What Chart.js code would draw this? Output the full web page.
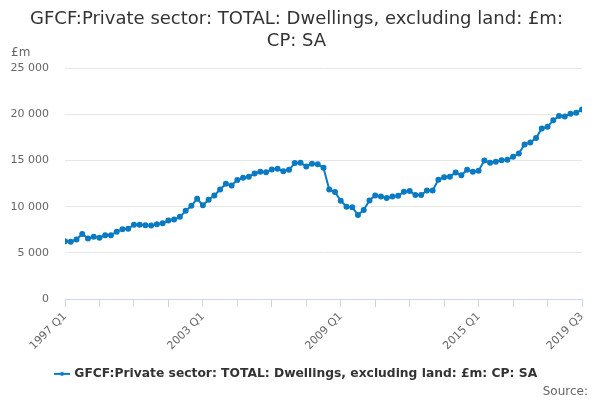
<!DOCTYPE html>
<html>
<head>
<meta charset="utf-8">
<script src="https://cdn.jsdelivr.net/npm/chart.js@4.4.0/dist/chart.umd.min.js"></script>
<style>
  html, body { margin: 0; padding: 0; background: #fff; }
  #wrap { width: 600px; height: 400px; }
</style>
</head>
<body>
<div id="wrap"><canvas id="gfcfChart"></canvas></div>
<script>
// quarters 1997 Q1 .. 2019 Q3
const years = [1997, 1998, 1999, 2000, 2001, 2002, 2003, 2004, 2005, 2006, 2007, 2008,
  2009, 2010, 2011, 2012, 2013, 2014, 2015, 2016, 2017, 2018, 2019];
const quarters = [];
years.forEach(y => ['Q1', 'Q2', 'Q3', 'Q4'].forEach(q => {
  if (!(y === 2019 && q === 'Q4')) quarters.push(y + ' ' + q);
}));

// £m
const values = [
  6250, 6200, 6450, 7050, 6550, 6750, 6650, 6900,
  6900, 7300, 7550, 7600, 8050, 8050, 8000, 7950,
  8100, 8200, 8500, 8600, 8900, 9550, 10100, 10850,
  10150, 10750, 11220, 11870, 12480, 12300, 12880, 13130,
  13240, 13600, 13780, 13740, 14030, 14100, 13850, 13990,
  14720, 14750, 14360, 14650, 14610, 14210, 11870, 11580,
  10650, 9990, 9940, 9090, 9650, 10680, 11220, 11110,
  10930, 11110, 11180, 11610, 11690, 11260, 11260, 11760,
  11760, 12910, 13200, 13240, 13710, 13400, 14010, 13780,
  13900, 15010, 14760, 14860, 15040, 15080, 15400, 15770,
  16740, 16960, 17430, 18480, 18650, 19370, 19810, 19780,
  20060, 20170, 20530
];

const tickLabels = ['1997 Q1', '2003 Q1', '2009 Q1', '2015 Q1', '2019 Q3'];
const seriesName = 'GFCF:Private sector: TOTAL: Dwellings, excluding land: £m: CP: SA';
const titleLines = ['GFCF:Private sector: TOTAL: Dwellings, excluding land: £m:', 'CP: SA'];
const unitLabel = '£m';
const sourceLabel = 'Source:';

const lineColor = '#0a7bc2';
const fontFamily = '"DejaVu Sans", sans-serif';

// legend symbol: short line with a dot
const sym = document.createElement('canvas');
sym.width = 16; sym.height = 8;
const sctx = sym.getContext('2d');
sctx.strokeStyle = lineColor; sctx.lineWidth = 2;
sctx.beginPath(); sctx.moveTo(0, 4); sctx.lineTo(16, 4); sctx.stroke();
sctx.fillStyle = lineColor;
sctx.beginPath(); sctx.arc(8, 4, 2, 0, Math.PI * 2); sctx.fill();

const extraText = {
  id: 'extraText',
  afterDraw(chart) {
    const ctx = chart.ctx;
    ctx.save();
    ctx.fillStyle = '#666';
    ctx.font = '12px ' + fontFamily;
    ctx.textBaseline = 'middle';
    ctx.textAlign = 'left';
    ctx.fillText(unitLabel, 11, 53);
    ctx.textAlign = 'right';
    ctx.fillText(sourceLabel, 588, 392);
    ctx.restore();
  }
};

new Chart(document.getElementById('gfcfChart'), {
  type: 'line',
  data: {
    datasets: [{
      label: seriesName,
      data: values.map((v, i) => ({ x: i, y: v })),
      borderColor: lineColor,
      backgroundColor: lineColor,
      borderWidth: 2,
      pointRadius: 2,
      pointHoverRadius: 3,
      pointStyle: 'circle',
      tension: 0
    }]
  },
  options: {
    responsive: true,
    maintainAspectRatio: false,
    animation: false,
    layout: { padding: { left: 11, right: 18, top: 0, bottom: 10 } },
    plugins: {
      title: {
        display: true,
        text: titleLines,
        color: '#333',
        font: { family: fontFamily, size: 18, weight: 'normal', lineHeight: 1.2 },
        padding: { top: 9, bottom: 16 }
      },
      legend: {
        position: 'bottom',
        labels: {
          usePointStyle: true,
          pointStyle: sym,
          color: '#333',
          font: { family: fontFamily, size: 12.3, weight: 'bold' },
          padding: 12
        }
      },
      tooltip: { enabled: false }
    },
    scales: {
      x: {
        type: 'linear',
        min: 0,
        max: values.length - 1,
        offset: false,
        border: { display: true, color: '#ccd6eb', width: 1 },
        grid: { drawOnChartArea: false, drawTicks: true, tickLength: 8, color: '#ccd6eb' },
        ticks: {
          stepSize: 6,
          autoSkip: false,
          maxRotation: 45,
          minRotation: 45,
          color: '#666',
          font: { family: fontFamily, size: 11 },
          callback: v => tickLabels.includes(quarters[v]) ? quarters[v] : ''
        },
        afterBuildTicks: axis => {
          axis.ticks = [];
          for (let i = 0; i < quarters.length; i += 6) axis.ticks.push({ value: i });
        },
        afterFit: axis => {
          axis.paddingLeft = 0;
          axis.paddingRight = 0;
        }
      },
      y: {
        min: 0,
        max: 25000,
        border: { display: false },
        grid: { color: '#e6e6e6', drawTicks: false },
        ticks: {
          stepSize: 5000,
          padding: 16,
          color: '#666',
          font: { family: fontFamily, size: 11 },
          callback: v => String(v).replace(/\B(?=(\d{3})+(?!\d))/g, ' ')
        },
        afterFit: axis => { axis.width = 54; }
      }
    }
  },
  plugins: [extraText]
});
</script>
</body>
</html>
